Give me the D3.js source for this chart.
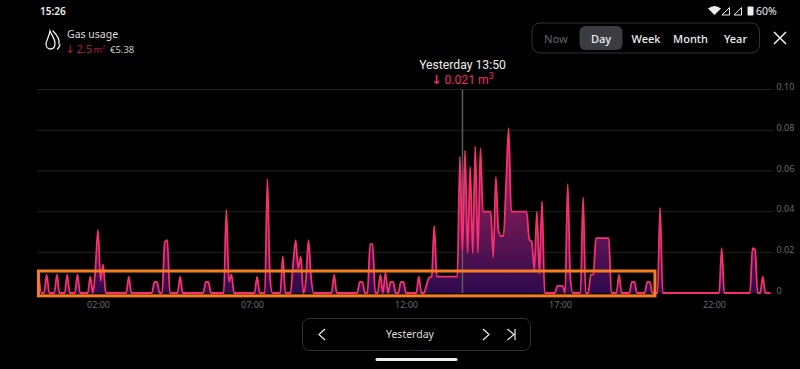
<!DOCTYPE html>
<html lang="en">
<head>
<meta charset="UTF-8">
<title>Gas usage</title>
<style>
    html, body { margin: 0; padding: 0; background: #000; overflow: hidden; }
    svg { display: block; }
    text { font-family: "Noto Sans", sans-serif; }
    .axis .domain, .axis .tick line { display: none; }
    .axis text { font-family: "Noto Sans", sans-serif; fill: #6a6a6a; font-size: 9px; }
</style>
<script src="https://d3js.org/d3.v7.min.js"></script>
</head>
<body>
<script>
// gas usage in m3 per 5 minutes, one row per hour (first slot is not drawn in the app)
const hour00 = [null, .008, 0, 0, .009, 0, 0, 0, .009, 0, 0, 0]
const hour01 = [.009, 0, 0, 0, .009, 0, 0, 0, 0, .008, 0, .012]
const hour02 = [.031, .006, .014, 0, 0, 0, 0, 0, 0, 0, 0, 0]
const hour03 = [.008, 0, 0, 0, 0, 0, 0, 0, 0, 0, .0054, .0054]
const hour04 = [0, 0, .025, .026, 0, 0, 0, 0, .008, 0, 0, 0]
const hour05 = [0, 0, 0, 0, 0, 0, .0054, .0054, 0, 0, 0, 0]
const hour06 = [0, 0, .041, .0055, .009, 0, 0, 0, 0, 0, 0, 0]
const hour07 = [0, 0, .008, 0, 0, 0, .056, .008, 0, 0, 0, 0]
const hour08 = [.018, 0, 0, 0, .014, .026, .012, .018, 0, .006, .026, .008]
const hour09 = [0, 0, 0, 0, 0, 0, 0, 0, .009, 0, 0, 0]
const hour10 = [0, 0, 0, 0, 0, 0, .0054, .0054, 0, 0, .024, .024]
const hour11 = [0, 0, .009, 0, .010, 0, .0054, .0054, 0, 0, .0054, .0054]
const hour12 = [0, 0, 0, 0, 0, .008, 0, 0, .004, .0075, .008, .033]
const hour13 = [.008, .008, .008, .008, .008, .008, .008, .008, .008, .067, .021, .070]
const hour14 = [.0195, .062, .0195, .072, .0195, .071, .04, .04, .04, .04, .0175, .057]
const hour15 = [.031, .028, .028, .054, .081, .04, .04, .04, .04, .04, .04, .04]
const hour16 = [.0265, .025, .0115, .04, .0095, .045, 0, 0, 0, 0, 0, .0035]
const hour17 = [.0035, .0035, 0, .0535, .008, 0, 0, 0, 0, .047, 0, 0]
const hour18 = [.009, .009, .027, .027, .027, .027, .027, .027, 0, 0, 0, .009]
const hour19 = [0, 0, 0, 0, .0054, .0054, 0, 0, 0, 0, .0054, .0054]
const hour20 = [0, 0, 0, .042, 0, 0, 0, 0, 0, 0, 0, 0]
const hour21 = [0, 0, 0, 0, 0, 0, 0, 0, 0, 0, 0, 0]
const hour22 = [0, 0, 0, .022, 0, 0, 0, 0, 0, 0, 0, 0]
const hour23 = [0, 0, 0, .022, .021, 0, 0, .008, 0, 0, 0]

const usage = [hour00, hour01, hour02, hour03, hour04, hour05, hour06, hour07, hour08, hour09, hour10, hour11,
    hour12, hour13, hour14, hour15, hour16, hour17, hour18, hour19, hour20, hour21, hour22, hour23].flat()

const stepMinutes = 5
const xTickMinutes = [120, 420, 720, 1020, 1320]
const yTickValues = [0, .02, .04, .06, .08, .10]
const selectedMinute = 830   // 13:50
const highlightMinutes = [4, 1205]
const highlightValues = [-.0014, .0108]
const periodLabels = ["Now", "Day", "Week", "Month", "Year"]
const periodCenters = [556, 601, 646, 690.5, 735.5]

const svg = d3.select("body").append("svg").attr("width", 800).attr("height", 369)

const x = d3.scaleLinear().domain([0, 1440]).range([36.4, 775.6])
const y = d3.scaleLinear().domain([0, .10]).range([293, 89.5])

// fill under the line
const defs = svg.append("defs")
const grad = defs.append("linearGradient").attr("id", "fillGrad")
    .attr("gradientUnits", "userSpaceOnUse")
    .attr("x1", 0).attr("x2", 0).attr("y1", y(.08)).attr("y2", y(0))
grad.append("stop").attr("offset", "0%").attr("stop-color", "#b01e5a")
grad.append("stop").attr("offset", "45%").attr("stop-color", "#7a1a55")
grad.append("stop").attr("offset", "100%").attr("stop-color", "#2e0a4e")

// grid lines
svg.append("g").selectAll("line").data(yTickValues).enter().append("line")
    .attr("x1", 37).attr("x2", 773)
    .attr("y1", d => y(d)).attr("y2", d => y(d))
    .attr("stroke", d => d === 0 ? "none" : "#232323")
    .attr("stroke-width", 1)

const points = usage.map((v, i) => ({ minute: i * stepMinutes, value: v }))

const area = d3.area().defined(d => d.value !== null)
    .x(d => x(d.minute)).y0(y(0)).y1(d => y(d.value)).curve(d3.curveMonotoneX)
const line = d3.line().defined(d => d.value !== null)
    .x(d => x(d.minute)).y(d => y(d.value)).curve(d3.curveMonotoneX)

svg.append("path").datum(points).attr("d", area).attr("fill", "url(#fillGrad)")

// crosshair
svg.append("line")
    .attr("x1", x(selectedMinute)).attr("x2", x(selectedMinute))
    .attr("y1", y(.10)).attr("y2", y(0))
    .attr("stroke", "#5c5c5c").attr("stroke-width", 1.5)

svg.append("path").datum(points).attr("d", line)
    .attr("fill", "none").attr("stroke", "#f5306f").attr("stroke-width", 1.8)
    .attr("stroke-linejoin", "round")

// orange box drawn on the screenshot
svg.append("rect")
    .attr("x", x(highlightMinutes[0])).attr("y", y(highlightValues[1]))
    .attr("width", x(highlightMinutes[1]) - x(highlightMinutes[0]))
    .attr("height", y(highlightValues[0]) - y(highlightValues[1]))
    .attr("fill", "none").attr("stroke", "#f57f20").attr("stroke-width", 3)

// axes
const fmtMinute = m => String(m / 60).padStart(2, "0") + ":00"
svg.append("g").attr("class", "axis").attr("transform", "translate(0,296)")
    .call(d3.axisBottom(x).tickValues(xTickMinutes).tickFormat(fmtMinute).tickSize(0).tickPadding(6))

svg.append("g").attr("class", "axis").attr("transform", "translate(776.5,-2.5)")
    .call(d3.axisRight(y).tickValues(yTickValues).tickSize(0).tickPadding(0)
        .tickFormat(d => d === 0 ? "0" : d3.format(".2f")(d)))

// status bar
svg.append("text").attr("x", 40).attr("y", 15).attr("fill", "#eee")
    .attr("font-size", 10).attr("font-weight", 600).text("15:26")
svg.append("path").attr("d", "M708 8.5 Q714.5 3.5 721 8.5 L714.5 15 Z").attr("fill", "#eee")
svg.append("path").attr("d", "M729.5 15 L729.5 7.5 L722 15 Z").attr("fill", "none").attr("stroke", "#eee")
svg.append("path").attr("d", "M741.5 15 L741.5 7.5 L734 15 Z").attr("fill", "none").attr("stroke", "#eee")
svg.append("rect").attr("x", 747.5).attr("y", 6.5).attr("width", 6).attr("height", 9).attr("rx", 1)
    .attr("fill", "#eee")
svg.append("text").attr("x", 756).attr("y", 15).attr("fill", "#eee").attr("font-size", 10.5).text("60%")

// flame icon
svg.append("g").attr("fill", "none").attr("stroke", "#eee").attr("stroke-width", 1.3).attr("stroke-linecap", "round")
    .selectAll("path")
    .data(["M50 31 C52 36 55 39 55 43 C55 47 53 49 50.5 49 C48 49 46 47 46 44 C46 41 49 37 50 31 Z",
        "M53 31 C57 35 60 39 59 44", "M60 45 C59.5 47 58.5 48 57.5 49"])
    .enter().append("path").attr("d", d => d)

svg.append("text").attr("x", 67).attr("y", 38).attr("fill", "#ddd").attr("font-size", 10.5).text("Gas usage")
const usageLabel = svg.append("text").attr("y", 53).attr("fill", "#b81c4e").attr("font-size", 11)
usageLabel.append("tspan").attr("x", 65.5).attr("style", "font-family:'DejaVu Sans'").text("↓")
usageLabel.append("tspan").attr("x", 76.5).text("2.5")
usageLabel.append("tspan").attr("x", 93.5).attr("font-size", 9).text("m²")
svg.append("text").attr("x", 110).attr("y", 52.5).attr("fill", "#ccc").attr("font-size", 9.5).text("€5.38")

// period selector
svg.append("rect").attr("x", 532).attr("y", 23).attr("width", 227.5).attr("height", 30).attr("rx", 8)
    .attr("fill", "none").attr("stroke", "#333")
svg.append("rect").attr("x", 579.5).attr("y", 26).attr("width", 43).attr("height", 24).attr("rx", 6)
    .attr("fill", "#3b3d42")
svg.append("g").selectAll("text").data(periodLabels).enter().append("text")
    .attr("x", (d, i) => periodCenters[i]).attr("y", 42.5)
    .attr("text-anchor", "middle").attr("font-size", 11).attr("font-weight", 500)
    .attr("fill", d => d === "Now" ? "#5a5a5a" : "#eee")
    .text(d => d)

// close button
svg.append("path").attr("d", "M774 32 L786 44 M786 32 L774 44")
    .attr("stroke", "#eee").attr("stroke-width", 1.5).attr("fill", "none")

// selected point label
svg.append("text").attr("x", 462.5).attr("y", 69).attr("text-anchor", "middle")
    .attr("fill", "#eee").attr("font-size", 12.2).attr("style", "font-family:Roboto")
    .text("Yesterday 13:50")
const valueLabel = svg.append("text").attr("x", 462.5).attr("y", 83.5).attr("text-anchor", "middle")
    .attr("fill", "#f02a6c").attr("font-size", 12.2).attr("style", "font-family:Roboto")
valueLabel.append("tspan").attr("font-weight", 700).attr("style", "font-family:'DejaVu Sans'").text("↓")
valueLabel.append("tspan").text(" 0.021 m")
valueLabel.append("tspan").attr("font-size", 9).attr("dy", -4.5).text("3")

// bottom navigation
svg.append("rect").attr("x", 302.5).attr("y", 318.5).attr("width", 228).attr("height", 32).attr("rx", 7)
    .attr("fill", "none").attr("stroke", "#333")
svg.append("path").attr("d", "M325 329 L319 334.5 L325 340 M483 329 L489 334.5 L483 340 M507.5 329 L514 334.5 L507.5 340 M515 329 L515 340")
    .attr("fill", "none").attr("stroke", "#eee").attr("stroke-width", 1.2)
svg.append("text").attr("x", 410).attr("y", 338).attr("text-anchor", "middle")
    .attr("fill", "#ddd").attr("font-size", 10.5).text("Yesterday")
svg.append("rect").attr("x", 375.5).attr("y", 358).attr("width", 82).attr("height", 3).attr("rx", 1.5)
    .attr("fill", "#eee")
</script>
</body>
</html>
